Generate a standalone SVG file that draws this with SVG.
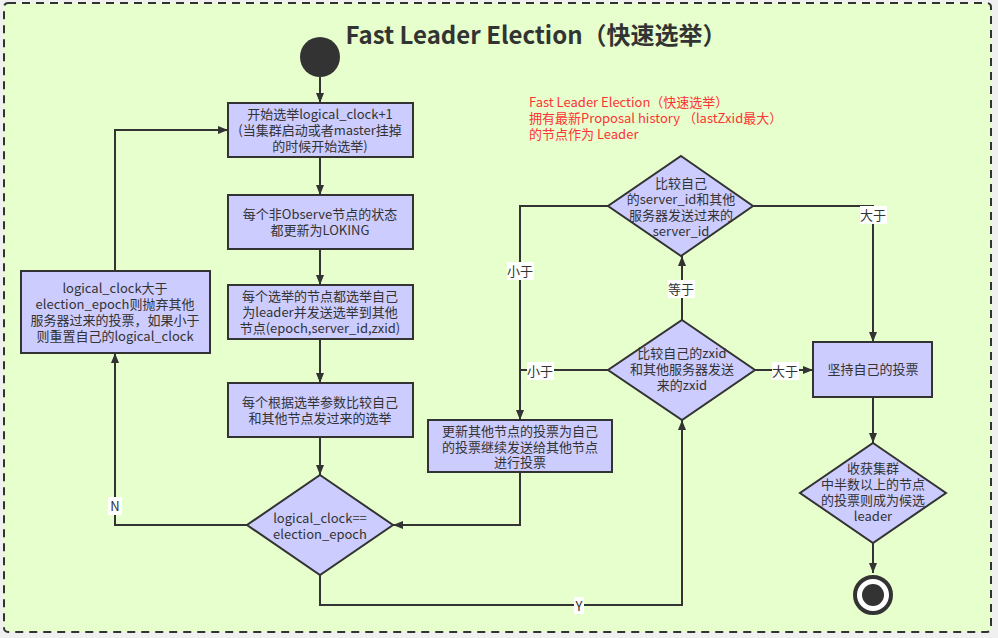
<svg xmlns="http://www.w3.org/2000/svg" width="998" height="638" viewBox="0 0 998 638">
<defs>
<marker id="ah" viewBox="0 0 10 8" refX="10" refY="4" markerWidth="10" markerHeight="8" markerUnits="userSpaceOnUse" orient="auto">
<path d="M0,0 L10,4 L0,8 Z" fill="#333"/>
</marker>
<style>
.t{font-family:"Microsoft YaHei","Noto Sans CJK SC","Liberation Sans",sans-serif;font-size:13px;fill:#333;text-anchor:middle;}
.box{fill:#ccccff;stroke:#333;stroke-width:2;}
.ln{fill:none;stroke:#333;stroke-width:2;}
.lb{fill:#fff;}
.red{font-family:"Microsoft YaHei","Noto Sans CJK SC","Liberation Sans",sans-serif;font-size:13px;fill:#ff3333;}
</style>
</defs>
<rect x="0" y="0" width="998" height="638" fill="#f0f0f0"/>
<rect x="4" y="3" width="987" height="629" rx="4" fill="#e6ffcc" stroke="#333" stroke-width="2" stroke-dasharray="8,6"/>
<text x="536" y="44" style="font-family:'Microsoft YaHei','Noto Sans CJK SC','Liberation Sans',sans-serif;font-size:24px;font-weight:bold;fill:#333;text-anchor:middle;">Fast Leader Election（快速选举）</text>
<g id="note">
<text class="red" x="529" y="107">Fast Leader Election（快速选举）</text>
<text class="red" x="529" y="123">拥有最新Proposal history （lastZxid最大）</text>
<text class="red" x="529" y="139">的节点作为 Leader</text>
</g>
<g id="connectors">
<path class="ln" d="M320,77 L320,103" marker-end="url(#ah)"/>
<path class="ln" d="M320,157 L320,195" marker-end="url(#ah)"/>
<path class="ln" d="M320,249 L320,285" marker-end="url(#ah)"/>
<path class="ln" d="M320,339 L320,383" marker-end="url(#ah)"/>
<path class="ln" d="M320,437 L320,475" marker-end="url(#ah)"/>
<path class="ln" d="M247,525 L115,525 L115,353" marker-end="url(#ah)"/>
<path class="ln" d="M115,271 L115,130 L228,130" marker-end="url(#ah)"/>
<path class="ln" d="M320,575 L320,605 L682,605 L682,420" marker-end="url(#ah)"/>
<path class="ln" d="M682,320 L682,256" marker-end="url(#ah)"/>
<path class="ln" d="M608,206 L520,206 L520,420" marker-end="url(#ah)"/>
<path class="ln" d="M608,370 L520,370"/>
<path class="ln" d="M520,472 L520,525 L393,525" marker-end="url(#ah)"/>
<path class="ln" d="M753,206 L873,206 L873,342" marker-end="url(#ah)"/>
<path class="ln" d="M755,370 L813,370" marker-end="url(#ah)"/>
<path class="ln" d="M873,397 L873,443" marker-end="url(#ah)"/>
<path class="ln" d="M873,543 L873,573" marker-end="url(#ah)"/>
<rect class="lb" x="108" y="497" width="14" height="18"/>
<text class="t" x="115" y="511">N</text>
<rect class="lb" x="574" y="597" width="10" height="17"/>
<text class="t" x="579" y="611">Y</text>
<rect class="lb" x="668" y="280" width="27" height="18"/>
<text class="t" x="681" y="294">等于</text>
<rect class="lb" x="507" y="262" width="27" height="18"/>
<text class="t" x="520" y="276">小于</text>
<rect class="lb" x="527" y="362" width="27" height="18"/>
<text class="t" x="540" y="376">小于</text>
<rect class="lb" x="860" y="206" width="27" height="18"/>
<text class="t" x="873" y="220">大于</text>
<rect class="lb" x="772" y="362" width="27" height="18"/>
<text class="t" x="785" y="376">大于</text>
</g>
<g id="start"><circle cx="320" cy="57" r="20" fill="#333"/></g>
<g id="box1">
<rect class="box" x="228" y="103" width="185" height="54"/>
<text class="t" x="320" y="119">开始选举logical_clock+1</text>
<text class="t" x="320" y="135">(当集群启动或者master挂掉</text>
<text class="t" x="320" y="151">的时候开始选举)</text>
</g>
<g id="box2">
<rect class="box" x="228" y="195" width="185" height="54"/>
<text class="t" x="320" y="219">每个非Observe节点的状态</text>
<text class="t" x="320" y="235">都更新为LOKING</text>
</g>
<g id="box3">
<rect class="box" x="228" y="285" width="185" height="54"/>
<text class="t" x="320" y="301">每个选举的节点都选举自己</text>
<text class="t" x="320" y="317">为leader并发送选举到其他</text>
<text class="t" x="320" y="333">节点(epoch,server_id,zxid)</text>
</g>
<g id="box4">
<rect class="box" x="228" y="383" width="185" height="54"/>
<text class="t" x="320" y="407">每个根据选举参数比较自己</text>
<text class="t" x="320" y="423">和其他节点发过来的选举</text>
</g>
<g id="check">
<path class="box" d="M320,475 L393,525 L320,575 L247,525 Z"/>
<text class="t" x="320" y="523">logical_clock==</text>
<text class="t" x="320" y="539">election_epoch</text>
</g>
<g id="reset">
<rect class="box" x="21" y="271" width="189" height="82"/>
<text class="t" x="115" y="293">logical_clock大于</text>
<text class="t" x="115" y="309">election_epoch则抛弃其他</text>
<text class="t" x="115" y="325">服务器过来的投票，如果小于</text>
<text class="t" x="115" y="341">则重置自己的logical_clock</text>
</g>
<g id="zxid">
<path class="box" d="M682,320 L755,370 L682,420 L608,370 Z"/>
<text class="t" x="682" y="358">比较自己的zxid</text>
<text class="t" x="682" y="374">和其他服务器发送</text>
<text class="t" x="682" y="390">来的zxid</text>
</g>
<g id="serverid">
<path class="box" d="M681,156 L753,206 L681,256 L608,206 Z"/>
<text class="t" x="681" y="188">比较自己</text>
<text class="t" x="681" y="204">的server_id和其他</text>
<text class="t" x="681" y="220">服务器发送过来的</text>
<text class="t" x="681" y="236">server_id</text>
</g>
<g id="update">
<rect class="box" x="428" y="420" width="184" height="52"/>
<text class="t" x="520" y="436">更新其他节点的投票为自己</text>
<text class="t" x="520" y="452">的投票继续发送给其他节点</text>
<text class="t" x="520" y="467">进行投票</text>
</g>
<g id="keep">
<rect class="box" x="813" y="342" width="119" height="55"/>
<text class="t" x="873" y="374">坚持自己的投票</text>
</g>
<g id="harvest">
<path class="box" d="M873,443 L946,493 L873,543 L800,493 Z"/>
<text class="t" x="873" y="473">收获集群</text>
<text class="t" x="873" y="489">中半数以上的节点</text>
<text class="t" x="873" y="505">的投票则成为候选</text>
<text class="t" x="873" y="521">leader</text>
</g>
<g id="end">
<circle cx="873" cy="595" r="18" fill="#fff" stroke="#333" stroke-width="4"/>
<circle cx="873" cy="595" r="11" fill="#333"/>
</g>
</svg>
